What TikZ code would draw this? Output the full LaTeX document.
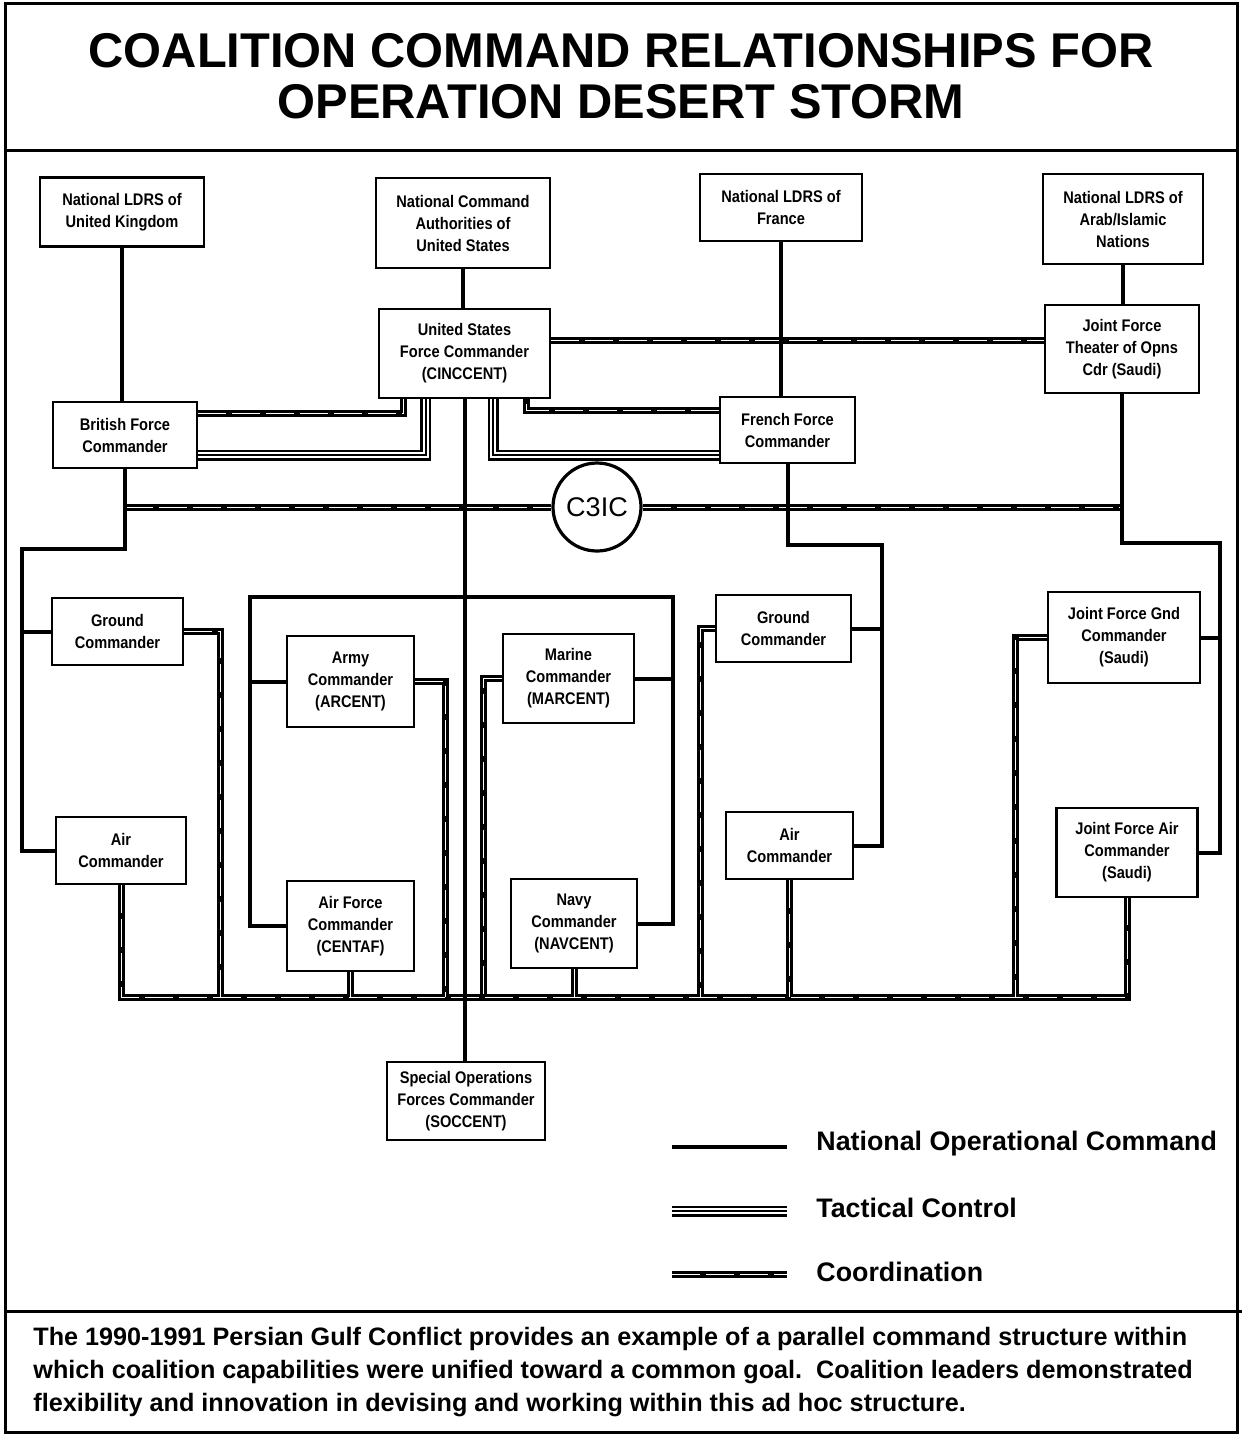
\documentclass[tikz,border=0pt]{standalone}
\usepackage{fontspec}
\setmainfont{Liberation Sans}
\newfontfamily\narrowsf[FakeStretch=0.87]{Liberation Sans}
\usetikzlibrary{calc}
\newcommand\boxfnt{\narrowsf\bfseries\fontsize{8.4pt}{11pt}\selectfont}
\begin{document}
\begin{tikzpicture}[x=0.5pt,y=-0.5pt,
  box/.style={draw, line width=1.4pt, fill=white, align=center, inner sep=0pt, font=\boxfnt},
  noc/.style={line width=2pt},
  coord/.style={line width=3.5pt, postaction={draw=white, line width=0.5pt, dash pattern=on 14pt off 3pt}},
  tac/.style={draw=white, line width=3pt, preaction={draw=black, line width=5.5pt}, postaction={draw=black, line width=1pt}},
  frame/.style={line width=1.5pt}
  ]
\useasboundingbox (0,0) rectangle (1242,1437);
% frame
\draw[frame] (5,3) rectangle (1237,1432);
\draw[frame] (5,150) -- (1237,150);
\draw[frame] (5,1311) -- (1242,1311);
\node[font=\bfseries\fontsize{24.4pt}{25.5pt}\selectfont, align=center] (title) at (621,76) {COALITION COMMAND RELATIONSHIPS FOR\\OPERATION DESERT STORM};

% nodes
\node[box, minimum width=82pt, minimum height=34.5pt] (uk) at (122,212) {National LDRS of\\United Kingdom};
\node[box, minimum width=87pt, minimum height=45pt] (nca) at (463,223) {National Command\\Authorities of\\United States};
\node[box, minimum width=81pt, minimum height=33.5pt] (fra) at (781,207.5) {National LDRS of\\France};
\node[box, minimum width=80pt, minimum height=45pt] (arab) at (1123,219) {National LDRS of\\Arab/Islamic\\Nations};
\node[box, minimum width=85.5pt, minimum height=44.5pt] (cinc) at (464.5,353.5) {United States\\Force Commander\\(CINCCENT)};
\node[box, minimum width=77pt, minimum height=44pt] (jft) at (1122,349) {Joint Force\\Theater of Opns\\Cdr (Saudi)};
\node[box, minimum width=72pt, minimum height=33pt] (brit) at (125,435) {British Force\\Commander};
\node[box, minimum width=67.5pt, minimum height=33pt] (frf) at (787.5,430) {French Force\\Commander};
\node[draw, circle, line width=1.6pt, fill=white, minimum size=44pt, inner sep=0pt, font=\fontsize{13.5pt}{14pt}\selectfont] (c3ic) at (597,507) {C3IC};
\node[box, minimum width=65.5pt, minimum height=33.5pt] (gndl) at (117.5,631.5) {Ground\\Commander};
\node[box, minimum width=63.5pt, minimum height=45.5pt] (army) at (350.5,681.5) {Army\\Commander\\(ARCENT)};
\node[box, minimum width=65.5pt, minimum height=44.5pt] (mar) at (568.5,678.5) {Marine\\Commander\\(MARCENT)};
\node[box, minimum width=67.5pt, minimum height=33.5pt] (gndr) at (783.5,628.5) {Ground\\Commander};
\node[box, minimum width=76pt, minimum height=45.5pt] (jfgnd) at (1124,637.5) {Joint Force Gnd\\Commander\\(Saudi)};
\node[box, minimum width=65pt, minimum height=33.5pt] (airl) at (121,850.5) {Air\\Commander};
\node[box, minimum width=63.5pt, minimum height=45pt] (afc) at (350.5,926) {Air Force\\Commander\\(CENTAF)};
\node[box, minimum width=63pt, minimum height=44.5pt] (navy) at (574,923.5) {Navy\\Commander\\(NAVCENT)};
\node[box, minimum width=63.5pt, minimum height=33.5pt] (airr) at (789.5,845.5) {Air\\Commander};
\node[box, minimum width=70.5pt, minimum height=44.5pt] (jfair) at (1127,852.5) {Joint Force Air\\Commander\\(Saudi)};
\node[box, minimum width=79pt, minimum height=39pt] (soc) at (466,1101) {Special Operations\\Forces Commander\\(SOCCENT)};

% named coordinates
\coordinate (lbus) at (22,549);
\coordinate (brl) at (250,597);
\coordinate (brr) at (673,597);
\coordinate (rbus1) at (882,545);
\coordinate (rbus2) at (1220,543);
\coordinate (b1) at (220,997);
\coordinate (b2) at (445,997);
\coordinate (b3) at (483,997);
\coordinate (b4) at (700,997);
\coordinate (b5) at (1015,997);

% coordination lines
\draw[coord] ([yshift=6.5pt]cinc.east) -- ([yshift=6.5pt]cinc.east -| jft.west);
\draw[coord] (brit.south |- c3ic.west) -- (c3ic.west);
\draw[coord] (c3ic.east) -- (c3ic.east -| jft.south);
\draw[coord] (brit.east |- 0,413) -| ($(cinc.south west)+(26,0)$);
\draw[coord] (frf.west |- 0,410) -| ($(cinc.south east)+(-25,0)$);
\draw[coord] (airl.south) |- (jfair.south |- b1) -- (jfair.south);
\draw[coord] (gndl.east) -| (b1);
\draw[coord] (army.east) -| (b2);
\draw[coord] (afc.south) -- (afc.south |- b2);
\draw[coord] (mar.west) -| (b3);
\draw[coord] (navy.south) -- (navy.south |- b3);
\draw[coord] (gndr.west) -| (b4);
\draw[coord] (airr.south) -- (airr.south |- b4);
\draw[coord] (jfgnd.west) -| (b5);

% tactical control
\draw[tac] (brit.east |- 0,455) -| ($(cinc.south west)+(48,0)$);
\draw[tac] (frf.west |- 0,455) -| ($(cinc.south east)+(-58,0)$);

% national operational command
\draw[noc] (uk.south) -- (uk.south |- brit.north);
\draw[noc] (nca.south) -- (nca.south |- cinc.north);
\draw[noc] (fra.south) -- (fra.south |- frf.north);
\draw[noc] (arab.south) -- (arab.south |- jft.north);
\draw[noc] (brit.south) |- (lbus) |- (airl.west);
\draw[noc] (lbus |- gndl.west) -- (gndl.west);
\draw[noc] (cinc.south) -- (cinc.south |- soc.north);
\draw[noc] (afc.west) -| (brl) -- (brr) |- (navy.east);
\draw[noc] (brl |- army.west) -- (army.west);
\draw[noc] (brr |- mar.east) -- (mar.east);
\draw[noc] (frf.south) |- (rbus1) |- (airr.east);
\draw[noc] (rbus1 |- gndr.east) -- (gndr.east);
\draw[noc] (jft.south) |- (rbus2) |- (jfair.east);
\draw[noc] (rbus2 |- jfgnd.east) -- (jfgnd.east);

% legend
\coordinate (la1) at (672,1147); \coordinate (lb1) at (787,1147);
\coordinate (la2) at (672,1211); \coordinate (lb2) at (787,1211);
\coordinate (la3) at (672,1274); \coordinate (lb3) at (787,1274);
\draw[noc] (la1) -- (lb1);
\draw[tac] (la2) -- (lb2);
\draw[coord] (la3) -- (lb3);
\node[anchor=west, font=\bfseries\fontsize{13.4pt}{14pt}\selectfont, inner sep=0pt] (lt1) at (816,1144) {National Operational Command};
\node[anchor=west, font=\bfseries\fontsize{13.4pt}{14pt}\selectfont, inner sep=0pt] (lt2) at (816,1208) {Tactical Control};
\node[anchor=west, font=\bfseries\fontsize{13.4pt}{14pt}\selectfont, inner sep=0pt] (lt3) at (816,1272) {Coordination};

% description
\node[anchor=north west, align=left, inner sep=0pt, font=\bfseries\fontsize{12.6pt}{16.5pt}\selectfont] (desc) at (33,1327) {The 1990-1991 Persian Gulf Conflict provides an example of a parallel command structure within\\which coalition capabilities were unified toward a common goal.\ \ Coalition leaders demonstrated\\flexibility and innovation in devising and working within this ad hoc structure.};
\end{tikzpicture}
\end{document}
